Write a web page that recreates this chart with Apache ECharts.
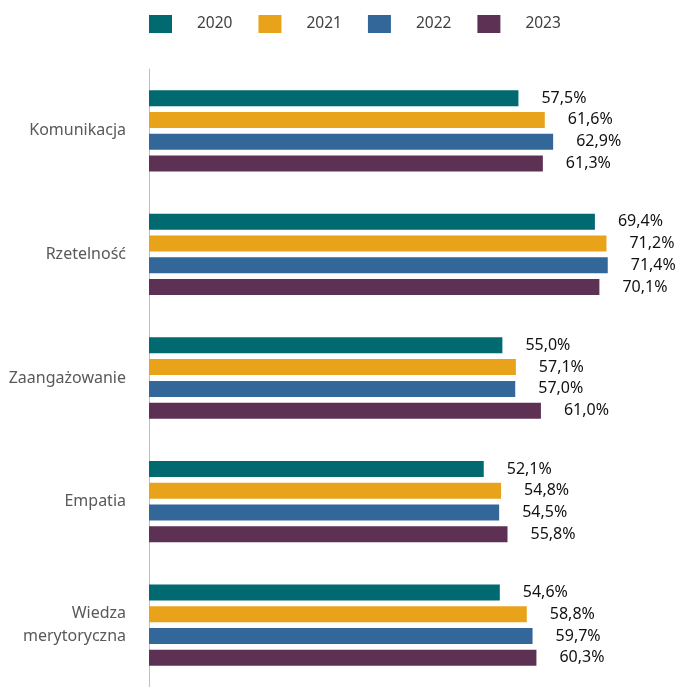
<!DOCTYPE html>
<html>
<head>
<meta charset="utf-8">
<script src="https://cdn.jsdelivr.net/npm/echarts@6/dist/echarts.min.js"></script>
<style>html,body{margin:0;padding:0;background:#fff}#c{width:679px;height:687px}</style>
</head>
<body>
<div id="c"></div>
<script>
const categories = ['Komunikacja', 'Rzetelność', 'Zaangażowanie', 'Empatia', 'Wiedza\nmerytoryczna'];
const seriesNames = ['2020', '2021', '2022', '2023'];
const values2020 = [57.5, 69.4, 55.0, 52.1, 54.6];
const values2021 = [61.6, 71.2, 57.1, 54.8, 58.8];
const values2022 = [62.9, 71.4, 57.0, 54.5, 59.7];
const values2023 = [61.3, 70.1, 61.0, 55.8, 60.3];
const colors = ['#006a70', '#e8a31a', '#336699', '#5c3154'];

const allValues = [values2020, values2021, values2022, values2023];
const chart = echarts.init(document.getElementById('c'));
const font = '"Noto Sans", sans-serif';
chart.setOption({
  animation: false,
  legend: {
    top: 15,
    left: 149,
    padding: 0,
    itemWidth: 23,
    itemHeight: 18,
    itemGap: 26,
    icon: 'rect',
    textStyle: { fontFamily: font, fontSize: 15.5, color: '#404040', padding: [0, 0, 0, 20] },
    data: seriesNames
  },
  grid: { left: 149, right: 16, top: 69, bottom: 0, containLabel: false },
  xAxis: { type: 'value', min: 0, max: 80, show: false },
  yAxis: {
    type: 'category',
    inverse: true,
    data: categories,
    axisLine: { show: true, lineStyle: { color: '#bfbfbf', width: 1 } },
    axisTick: { show: false },
    axisLabel: { fontFamily: font, fontSize: 16, color: '#595959', margin: 23, lineHeight: 23, align: 'right' }
  },
  series: seriesNames.map((n, i) => ({
    name: n,
    type: 'bar',
    data: allValues[i],
    barWidth: 16,
    barGap: '36%',
    itemStyle: { color: colors[i] },
    label: {
      show: true,
      position: 'right',
      distance: 23,
      fontFamily: font,
      fontSize: 16,
      color: '#111111',
      formatter: p => p.value.toFixed(1).replace('.', ',') + '%'
    }
  }))
});
</script>
</body>
</html>
